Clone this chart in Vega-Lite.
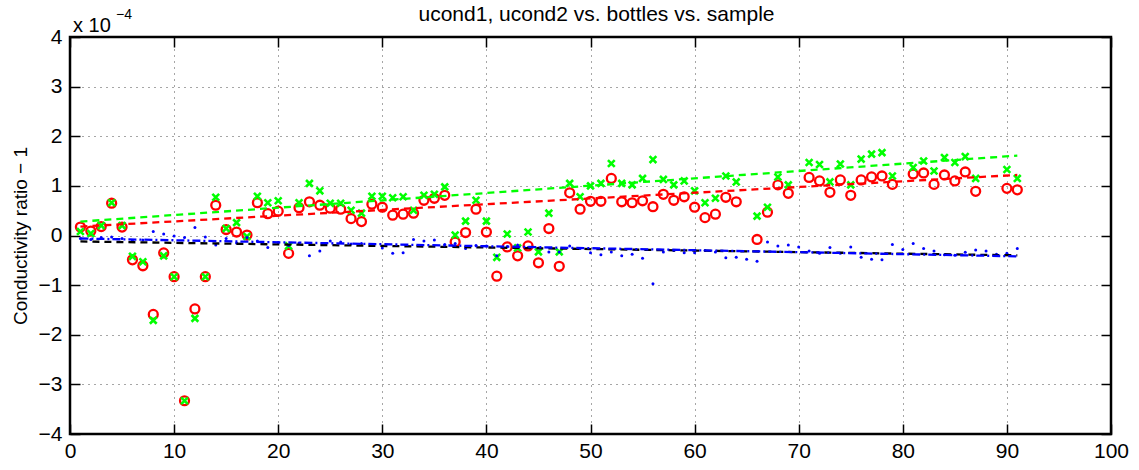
{
  "$schema": "https://vega.github.io/schema/vega-lite/v6.json",
  "width": 1041,
  "height": 397,
  "autosize": "none",
  "padding": {"left": 70, "top": 37, "right": 28, "bottom": 36},
  "background": "white",
  "title": {
    "text": "ucond1, ucond2 vs. bottles vs. sample",
    "font": "Liberation Sans",
    "fontSize": 21,
    "fontWeight": "normal",
    "color": "black",
    "offset": -17,
    "dx": 6
  },
  "config": {
    "view": {"stroke": "black", "strokeWidth": 2.5},
    "font": "Liberation Sans"
  },
  "datasets": {
    "samples": [
      {"sample": 1, "ucond1": 0.17e-4, "ucond2": 0.08e-4, "bottle": -0.06e-4},
      {"sample": 2, "ucond1": 0.09e-4, "ucond2": 0.04e-4, "bottle": -0.08e-4},
      {"sample": 3, "ucond1": 0.18e-4, "ucond2": 0.20e-4, "bottle": -0.04e-4},
      {"sample": 4, "ucond1": 0.65e-4, "ucond2": 0.66e-4, "bottle": -0.03e-4},
      {"sample": 5, "ucond1": 0.17e-4, "ucond2": 0.20e-4, "bottle": -0.06e-4},
      {"sample": 6, "ucond1": -0.49e-4, "ucond2": -0.42e-4, "bottle": -0.10e-4},
      {"sample": 7, "ucond1": -0.61e-4, "ucond2": -0.53e-4, "bottle": -0.09e-4},
      {"sample": 8, "ucond1": -1.59e-4, "ucond2": -1.71e-4, "bottle": 0.08e-4},
      {"sample": 9, "ucond1": -0.35e-4, "ucond2": -0.41e-4, "bottle": 0.03e-4},
      {"sample": 10, "ucond1": -0.83e-4, "ucond2": -0.83e-4, "bottle": -0.01e-4},
      {"sample": 11, "ucond1": -3.33e-4, "ucond2": -3.33e-4, "bottle": -0.04e-4},
      {"sample": 12, "ucond1": -1.48e-4, "ucond2": -1.67e-4, "bottle": 0.16e-4},
      {"sample": 13, "ucond1": -0.83e-4, "ucond2": -0.83e-4, "bottle": -0.03e-4},
      {"sample": 14, "ucond1": 0.61e-4, "ucond2": 0.77e-4, "bottle": -0.19e-4},
      {"sample": 15, "ucond1": 0.12e-4, "ucond2": 0.14e-4, "bottle": -0.06e-4},
      {"sample": 16, "ucond1": 0.07e-4, "ucond2": 0.26e-4, "bottle": -0.15e-4},
      {"sample": 17, "ucond1": 0.01e-4, "ucond2": -0.02e-4, "bottle": -0.04e-4},
      {"sample": 18, "ucond1": 0.66e-4, "ucond2": 0.79e-4, "bottle": -0.11e-4},
      {"sample": 19, "ucond1": 0.44e-4, "ucond2": 0.66e-4, "bottle": -0.24e-4},
      {"sample": 20, "ucond1": 0.49e-4, "ucond2": 0.70e-4, "bottle": -0.14e-4},
      {"sample": 21, "ucond1": -0.36e-4, "ucond2": -0.21e-4, "bottle": -0.20e-4},
      {"sample": 22, "ucond1": 0.56e-4, "ucond2": 0.66e-4, "bottle": -0.15e-4},
      {"sample": 23, "ucond1": 0.68e-4, "ucond2": 1.05e-4, "bottle": -0.41e-4},
      {"sample": 24, "ucond1": 0.61e-4, "ucond2": 0.90e-4, "bottle": -0.31e-4},
      {"sample": 25, "ucond1": 0.55e-4, "ucond2": 0.65e-4, "bottle": -0.11e-4},
      {"sample": 26, "ucond1": 0.53e-4, "ucond2": 0.65e-4, "bottle": -0.13e-4},
      {"sample": 27, "ucond1": 0.34e-4, "ucond2": 0.51e-4, "bottle": -0.17e-4},
      {"sample": 28, "ucond1": 0.28e-4, "ucond2": 0.45e-4, "bottle": -0.16e-4},
      {"sample": 29, "ucond1": 0.63e-4, "ucond2": 0.79e-4, "bottle": -0.18e-4},
      {"sample": 30, "ucond1": 0.57e-4, "ucond2": 0.79e-4, "bottle": -0.25e-4},
      {"sample": 31, "ucond1": 0.41e-4, "ucond2": 0.76e-4, "bottle": -0.36e-4},
      {"sample": 32, "ucond1": 0.43e-4, "ucond2": 0.78e-4, "bottle": -0.35e-4},
      {"sample": 33, "ucond1": 0.45e-4, "ucond2": 0.51e-4, "bottle": -0.08e-4},
      {"sample": 34, "ucond1": 0.71e-4, "ucond2": 0.81e-4, "bottle": -0.11e-4},
      {"sample": 35, "ucond1": 0.75e-4, "ucond2": 0.83e-4, "bottle": -0.09e-4},
      {"sample": 36, "ucond1": 0.81e-4, "ucond2": 0.98e-4, "bottle": -0.18e-4},
      {"sample": 37, "ucond1": -0.13e-4, "ucond2": 0.01e-4, "bottle": -0.16e-4},
      {"sample": 38, "ucond1": 0.06e-4, "ucond2": 0.29e-4, "bottle": -0.26e-4},
      {"sample": 39, "ucond1": 0.53e-4, "ucond2": 0.71e-4, "bottle": -0.20e-4},
      {"sample": 40, "ucond1": 0.07e-4, "ucond2": 0.29e-4, "bottle": -0.21e-4},
      {"sample": 41, "ucond1": -0.82e-4, "ucond2": -0.44e-4, "bottle": -0.41e-4},
      {"sample": 42, "ucond1": -0.23e-4, "ucond2": 0.03e-4, "bottle": -0.22e-4},
      {"sample": 43, "ucond1": -0.41e-4, "ucond2": -0.25e-4, "bottle": -0.19e-4},
      {"sample": 44, "ucond1": -0.21e-4, "ucond2": 0.07e-4, "bottle": -0.24e-4},
      {"sample": 45, "ucond1": -0.55e-4, "ucond2": -0.33e-4, "bottle": -0.25e-4},
      {"sample": 46, "ucond1": 0.14e-4, "ucond2": 0.45e-4, "bottle": -0.33e-4},
      {"sample": 47, "ucond1": -0.62e-4, "ucond2": -0.33e-4, "bottle": -0.33e-4},
      {"sample": 48, "ucond1": 0.86e-4, "ucond2": 1.05e-4, "bottle": -0.21e-4},
      {"sample": 49, "ucond1": 0.53e-4, "ucond2": 0.78e-4, "bottle": -0.26e-4},
      {"sample": 50, "ucond1": 0.69e-4, "ucond2": 1.00e-4, "bottle": -0.35e-4},
      {"sample": 51, "ucond1": 0.69e-4, "ucond2": 1.05e-4, "bottle": -0.39e-4},
      {"sample": 52, "ucond1": 1.15e-4, "ucond2": 1.45e-4, "bottle": -0.33e-4},
      {"sample": 53, "ucond1": 0.68e-4, "ucond2": 1.05e-4, "bottle": -0.41e-4},
      {"sample": 54, "ucond1": 0.66e-4, "ucond2": 1.02e-4, "bottle": -0.38e-4},
      {"sample": 55, "ucond1": 0.70e-4, "ucond2": 1.15e-4, "bottle": -0.46e-4},
      {"sample": 56, "ucond1": 0.58e-4, "ucond2": 1.53e-4, "bottle": -0.97e-4},
      {"sample": 57, "ucond1": 0.83e-4, "ucond2": 1.13e-4, "bottle": -0.33e-4},
      {"sample": 58, "ucond1": 0.71e-4, "ucond2": 1.02e-4, "bottle": -0.30e-4},
      {"sample": 59, "ucond1": 0.78e-4, "ucond2": 1.10e-4, "bottle": -0.35e-4},
      {"sample": 60, "ucond1": 0.57e-4, "ucond2": 0.90e-4, "bottle": -0.35e-4},
      {"sample": 61, "ucond1": 0.36e-4, "ucond2": 0.66e-4, "bottle": -0.30e-4},
      {"sample": 62, "ucond1": 0.43e-4, "ucond2": 0.75e-4, "bottle": -0.33e-4},
      {"sample": 63, "ucond1": 0.77e-4, "ucond2": 1.20e-4, "bottle": -0.45e-4},
      {"sample": 64, "ucond1": 0.68e-4, "ucond2": 1.08e-4, "bottle": -0.44e-4},
      {"sample": 65, "ucond1": null, "ucond2": null, "bottle": -0.48e-4},
      {"sample": 66, "ucond1": -0.08e-4, "ucond2": 0.39e-4, "bottle": -0.52e-4},
      {"sample": 67, "ucond1": 0.47e-4, "ucond2": 0.57e-4, "bottle": -0.13e-4},
      {"sample": 68, "ucond1": 1.02e-4, "ucond2": 1.18e-4, "bottle": -0.21e-4},
      {"sample": 69, "ucond1": 0.85e-4, "ucond2": 1.02e-4, "bottle": -0.19e-4},
      {"sample": 70, "ucond1": null, "ucond2": null, "bottle": -0.23e-4},
      {"sample": 71, "ucond1": 1.17e-4, "ucond2": 1.47e-4, "bottle": -0.31e-4},
      {"sample": 72, "ucond1": 1.10e-4, "ucond2": 1.43e-4, "bottle": -0.36e-4},
      {"sample": 73, "ucond1": 0.87e-4, "ucond2": 1.08e-4, "bottle": -0.24e-4},
      {"sample": 74, "ucond1": 1.12e-4, "ucond2": 1.44e-4, "bottle": -0.36e-4},
      {"sample": 75, "ucond1": 0.81e-4, "ucond2": 1.02e-4, "bottle": -0.23e-4},
      {"sample": 76, "ucond1": 1.12e-4, "ucond2": 1.54e-4, "bottle": -0.44e-4},
      {"sample": 77, "ucond1": 1.18e-4, "ucond2": 1.64e-4, "bottle": -0.48e-4},
      {"sample": 78, "ucond1": 1.20e-4, "ucond2": 1.67e-4, "bottle": -0.49e-4},
      {"sample": 79, "ucond1": 1.03e-4, "ucond2": 1.20e-4, "bottle": -0.18e-4},
      {"sample": 80, "ucond1": null, "ucond2": null, "bottle": -0.28e-4},
      {"sample": 81, "ucond1": 1.24e-4, "ucond2": 1.37e-4, "bottle": -0.16e-4},
      {"sample": 82, "ucond1": 1.26e-4, "ucond2": 1.50e-4, "bottle": -0.26e-4},
      {"sample": 83, "ucond1": 1.03e-4, "ucond2": 1.30e-4, "bottle": -0.31e-4},
      {"sample": 84, "ucond1": 1.22e-4, "ucond2": 1.57e-4, "bottle": -0.39e-4},
      {"sample": 85, "ucond1": 1.10e-4, "ucond2": 1.47e-4, "bottle": -0.40e-4},
      {"sample": 86, "ucond1": 1.28e-4, "ucond2": 1.59e-4, "bottle": -0.34e-4},
      {"sample": 87, "ucond1": 0.89e-4, "ucond2": 1.15e-4, "bottle": -0.29e-4},
      {"sample": 88, "ucond1": null, "ucond2": null, "bottle": -0.31e-4},
      {"sample": 89, "ucond1": null, "ucond2": null, "bottle": -0.38e-4},
      {"sample": 90, "ucond1": 0.95e-4, "ucond2": 1.33e-4, "bottle": -0.36e-4},
      {"sample": 91, "ucond1": 0.92e-4, "ucond2": 1.15e-4, "bottle": -0.26e-4}
    ],
    "fits": [
      {"fit": "ucond1", "sample": 1, "value": 0.18e-4},
      {"fit": "ucond1", "sample": 91, "value": 1.22e-4},
      {"fit": "ucond2", "sample": 1, "value": 0.28e-4},
      {"fit": "ucond2", "sample": 91, "value": 1.61e-4},
      {"fit": "bottles", "sample": 1, "value": -0.12e-4},
      {"fit": "bottles", "sample": 91, "value": -0.40e-4},
      {"fit": "ratio", "sample": 1, "value": -0.06e-4},
      {"fit": "ratio", "sample": 91, "value": -0.42e-4}
    ],
    "exponent": [
      {"base": "x 10", "power": "−4", "sample": 0, "value": 0.0004}
    ]
  },
  "layer": [
    {
      "data": {"name": "samples"},
      "mark": {"type": "point", "shape": "circle", "filled": false, "stroke": "#ff0000", "strokeWidth": 2.3, "size": 80, "opacity": 1},
      "encoding": {
        "x": {
          "field": "sample", "type": "quantitative",
          "scale": {"domain": [0, 100], "nice": false, "zero": false},
          "axis": {
            "orient": "bottom", "title": null,
            "values": [0, 10, 20, 30, 40, 50, 60, 70, 80, 90, 100],
            "grid": true, "gridColor": "#000000", "gridDash": [1, 5], "gridOpacity": 0.7, "gridWidth": 1,
            "domain": false, "ticks": true, "tickSize": -10, "tickColor": "#000000", "tickWidth": 1.5,
            "labelFont": "Liberation Sans", "labelFontSize": 21, "labelColor": "#000000", "labelPadding": 16,
            "labelFlush": false, "labelOverlap": false
          }
        },
        "y": {
          "field": "ucond1", "type": "quantitative",
          "scale": {"domain": [-0.0004, 0.0004], "nice": false, "zero": false},
          "axis": {
            "orient": "left", "title": "Conductivity ratio − 1",
            "titleFont": "Liberation Sans", "titleFontSize": 19, "titleFontWeight": "normal", "titleColor": "#000000", "titlePadding": 8,
            "values": [-0.0004, -0.0003, -0.0002, -0.0001, 0, 0.0001, 0.0002, 0.0003, 0.0004],
            "labelExpr": "format(round(datum.value * 10000), 'd')",
            "grid": true, "gridColor": "#000000", "gridDash": [1, 5], "gridOpacity": 0.7, "gridWidth": 1,
            "domain": false, "ticks": true, "tickSize": -10, "tickColor": "#000000", "tickWidth": 1.5,
            "labelFont": "Liberation Sans", "labelFontSize": 21, "labelColor": "#000000", "labelPadding": 18,
            "labelFlush": false, "labelOverlap": false
          }
        }
      }
    },
    {
      "data": {"name": "samples"},
      "mark": {"type": "point", "shape": "M-1,-1L1,1M-1,1L1,-1", "filled": false, "stroke": "#00ff00", "strokeWidth": 2.6, "size": 46, "opacity": 1},
      "encoding": {
        "x": {
          "field": "sample", "type": "quantitative",
          "axis": {"orient": "top", "title": null, "values": [0, 10, 20, 30, 40, 50, 60, 70, 80, 90, 100], "labels": false, "grid": false, "domain": false, "ticks": true, "tickSize": -10, "tickColor": "#000000", "tickWidth": 1.5}
        },
        "y": {
          "field": "ucond2", "type": "quantitative",
          "axis": {"orient": "right", "title": null, "values": [-0.0004, -0.0003, -0.0002, -0.0001, 0, 0.0001, 0.0002, 0.0003, 0.0004], "labels": false, "grid": false, "domain": false, "ticks": true, "tickSize": -10, "tickColor": "#000000", "tickWidth": 1.5}
        }
      }
    },
    {
      "data": {"name": "samples"},
      "mark": {"type": "point", "shape": "circle", "filled": true, "fill": "#0000ff", "size": 9, "opacity": 1},
      "encoding": {
        "x": {"field": "sample", "type": "quantitative", "axis": null},
        "y": {"field": "bottle", "type": "quantitative", "axis": null}
      }
    },
    {
      "data": {"name": "fits"},
      "mark": {"type": "line", "strokeWidth": 2.3},
      "encoding": {
        "x": {"field": "sample", "type": "quantitative", "axis": null},
        "y": {"field": "value", "type": "quantitative", "axis": null},
        "color": {
          "field": "fit", "type": "nominal", "legend": null,
          "scale": {"domain": ["ucond1", "ucond2", "bottles", "ratio"], "range": ["#ff0000", "#00ff00", "#000000", "#0000ff"]}
        },
        "strokeDash": {
          "field": "fit", "type": "nominal", "legend": null,
          "scale": {"domain": ["ucond1", "ucond2", "bottles", "ratio"], "range": [[7, 5], [7, 5], [7, 5], [8, 3, 2, 3]]}
        }
      }
    },
    {
      "data": {"name": "exponent"},
      "mark": {"type": "text", "font": "Liberation Sans", "fontSize": 20, "color": "#000000", "align": "left", "baseline": "alphabetic", "dx": 3, "dy": -5},
      "encoding": {
        "x": {"field": "sample", "type": "quantitative", "axis": null},
        "y": {"field": "value", "type": "quantitative", "axis": null},
        "text": {"field": "base"}
      }
    },
    {
      "data": {"name": "exponent"},
      "mark": {"type": "text", "font": "Liberation Sans", "fontSize": 14, "color": "#000000", "align": "left", "baseline": "alphabetic", "dx": 46, "dy": -18},
      "encoding": {
        "x": {"field": "sample", "type": "quantitative", "axis": null},
        "y": {"field": "value", "type": "quantitative", "axis": null},
        "text": {"field": "power"}
      }
    }
  ],
  "resolve": {"axis": {"x": "independent", "y": "independent"}}
}
